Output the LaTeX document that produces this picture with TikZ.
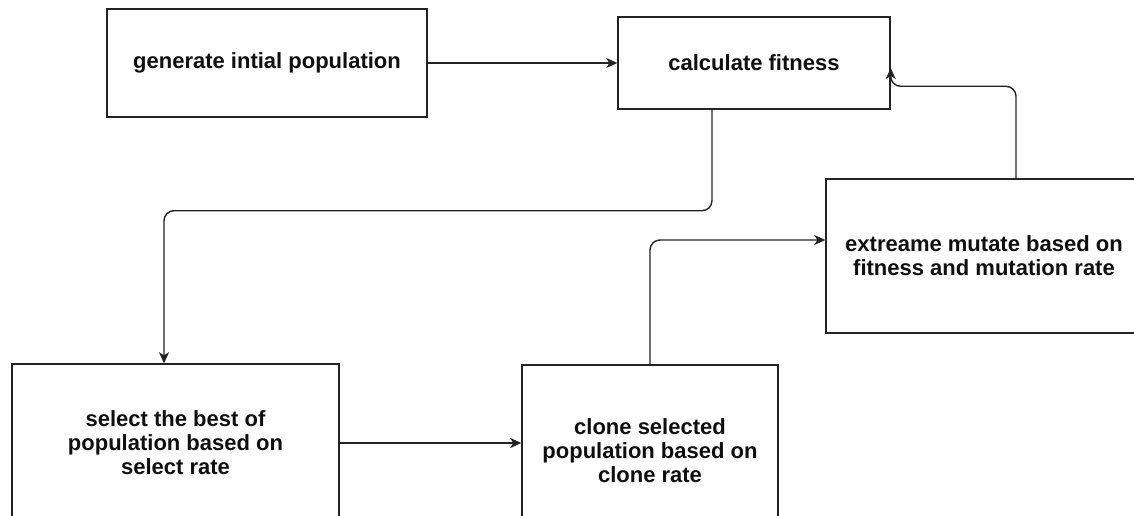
\documentclass[tikz,border=0pt]{standalone}
\usepackage{fontspec}
\setmainfont{Liberation Sans}
\usepackage{tikz}
\usetikzlibrary{arrows.meta}
\definecolor{galine}{RGB}{35,35,35}
\definecolor{gatext}{RGB}{15,15,15}

\begin{document}
\begin{tikzpicture}[x=1pt, y=-1pt,
    stepbox/.style={draw=galine, line width=1.4pt, text=gatext, align=center, inner sep=0pt,
      font=\bfseries\fontsize{22}{24}\selectfont},
    flow/.style={draw=galine, line width=1.4pt, rounded corners=10pt, -{Stealth[length=11pt, width=10pt, inset=3pt]}}]
  \clip (0,0) rectangle (1134,516);
  \node[stepbox, minimum width=320pt, minimum height=108pt] (init) at (267,63) {generate intial population};
  \node[stepbox, minimum width=272pt, minimum height=92pt] (fit) at (754,63) {calculate fitness};
  \node[stepbox, minimum width=316pt, minimum height=154pt] (mut) at (984,256) {extreame mutate based on\\fitness and mutation rate};
  \node[stepbox, minimum width=327pt, minimum height=158pt] (sel) at (175.5,443) {select the best of\\population based on\\select rate};
  \node[stepbox, minimum width=256pt, minimum height=172pt] (clone) at (650,451) {clone selected\\population based on\\clone rate};
  % loop of the algorithm
  \draw[flow] (init.east) -- (fit.west);
  \draw[flow] ([xshift=-42pt]fit.south) -- ++(0,101) -| ([xshift=-11.5pt]sel.north);
  \draw[flow] (sel.east) -- (sel.east -| clone.west);
  \draw[flow] (clone.north) |- ([yshift=16pt]mut.west);
  \draw[flow] ([xshift=32pt]mut.north) -- ++(0,-92) -| ([yshift=-5pt]fit.east);
\end{tikzpicture}
\end{document}
